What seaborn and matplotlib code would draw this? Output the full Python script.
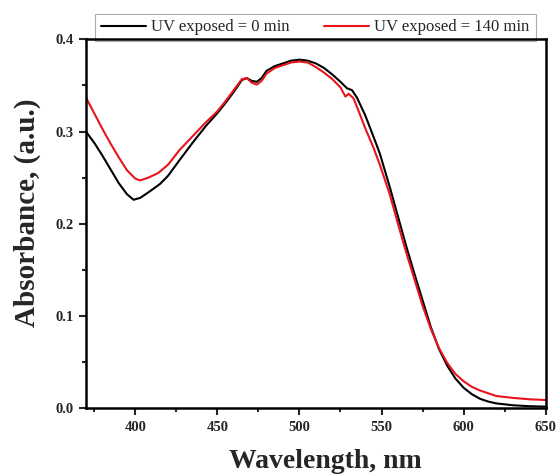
import numpy as np
import pandas as pd
import seaborn as sns
import matplotlib.pyplot as plt
from matplotlib.ticker import MultipleLocator

# wavelengths (nm) and absorbance
wl_0 = [370, 375, 380, 385, 390, 395, 399, 403, 408, 415, 420, 427, 435, 443,
        450, 455, 460, 465, 468, 471, 474, 477, 480, 485, 490, 495, 500, 505,
        510, 515, 520, 525, 529, 532, 535, 540, 545, 549, 555, 560, 565, 570,
        575, 580, 585, 590, 595, 600, 605, 610, 615, 620, 630, 640, 650]
abs_0 = [0.300, 0.288, 0.274, 0.259, 0.244, 0.232, 0.226, 0.228, 0.234, 0.243,
         0.252, 0.269, 0.288, 0.306, 0.320, 0.331, 0.343, 0.356, 0.358, 0.355,
         0.354, 0.358, 0.366, 0.371, 0.374, 0.377, 0.378, 0.377, 0.374, 0.369,
         0.362, 0.354, 0.347, 0.345, 0.337, 0.318, 0.295, 0.276, 0.240, 0.208,
         0.176, 0.146, 0.117, 0.088, 0.064, 0.046, 0.032, 0.022, 0.015, 0.010,
         0.007, 0.005, 0.003, 0.002, 0.0015]

wl_140 = [370, 375, 380, 385, 390, 395, 400, 403, 408, 414, 420, 427, 435, 443,
          450, 455, 460, 465, 468, 471, 474, 477, 480, 485, 490, 495, 500, 505,
          510, 515, 520, 525, 528, 530, 533, 537, 540, 545, 549, 555, 560, 565,
          570, 575, 580, 585, 590, 595, 600, 605, 610, 615, 620, 630, 640, 650]
abs_140 = [0.337, 0.320, 0.303, 0.287, 0.272, 0.258, 0.249, 0.247, 0.250, 0.255,
           0.264, 0.280, 0.295, 0.310, 0.322, 0.333, 0.345, 0.357, 0.358, 0.353,
           0.351, 0.355, 0.363, 0.369, 0.372, 0.375, 0.376, 0.375, 0.370, 0.364,
           0.357, 0.348, 0.338, 0.341, 0.336, 0.318, 0.304, 0.283, 0.264, 0.232,
           0.200, 0.169, 0.140, 0.111, 0.086, 0.065, 0.049, 0.037, 0.029, 0.023,
           0.019, 0.016, 0.013, 0.011, 0.0095, 0.0087]

labels = ['UV exposed = 0 min', 'UV exposed = 140 min']

df = pd.concat([
    pd.DataFrame({'Wavelength': wl_0, 'Absorbance': abs_0, 'Sample': labels[0]}),
    pd.DataFrame({'Wavelength': wl_140, 'Absorbance': abs_140, 'Sample': labels[1]}),
])

sns.set_style('ticks')
plt.rcParams['font.family'] = ['Liberation Serif', 'DejaVu Serif']

fig = plt.figure(figsize=(5.58, 4.75), dpi=100)
ax = fig.add_axes([0.154, 0.141, 0.824, 0.776])

sns.lineplot(data=df, x='Wavelength', y='Absorbance', hue='Sample',
             palette={labels[0]: 'black', labels[1]: '#e8141b'},
             linewidth=1.5, sort=False, estimator=None, ax=ax, legend=True)

ax.set_xlim(370, 650)
ax.set_ylim(0, 0.4)
ax.xaxis.set_major_locator(MultipleLocator(50))
ax.xaxis.set_minor_locator(MultipleLocator(25))
ax.yaxis.set_major_locator(MultipleLocator(0.1))
ax.yaxis.set_minor_locator(MultipleLocator(0.05))
ax.yaxis.set_major_formatter(plt.FuncFormatter(lambda v, p: f'{v:.1f}'))

for side in ['left', 'right', 'top', 'bottom']:
    ax.spines[side].set_linewidth(1.8)
    ax.spines[side].set_color('black')
    ax.spines[side].set_zorder(5)

ax.tick_params(which='major', direction='out', length=5, width=1.5,
               labelsize=10.5, pad=4)
ax.tick_params(which='minor', direction='out', length=3, width=1.5)
for lab in ax.get_xticklabels() + ax.get_yticklabels():
    lab.set_fontweight('bold')

ax.set_xlabel('Wavelength, nm', fontsize=20, fontweight='bold')
ax.set_ylabel('Absorbance, (a.u.)', fontsize=21, fontweight='bold')
ax.xaxis.set_label_coords(0.52, -0.11)
ax.yaxis.set_label_coords(-0.098, 0.531)

handles, _ = ax.get_legend_handles_labels()
leg = ax.legend(handles, labels, loc='lower center', ncol=2,
                bbox_to_anchor=(0.499, 0.995), fontsize=12,
                frameon=True, fancybox=False, edgecolor='#999999',
                handlelength=2.7, handletextpad=0.3, columnspacing=2.1,
                borderaxespad=0, borderpad=0.35)
leg.get_frame().set_linewidth(0.8)
leg.set_zorder(1)

plt.savefig('out.png', dpi=100)
